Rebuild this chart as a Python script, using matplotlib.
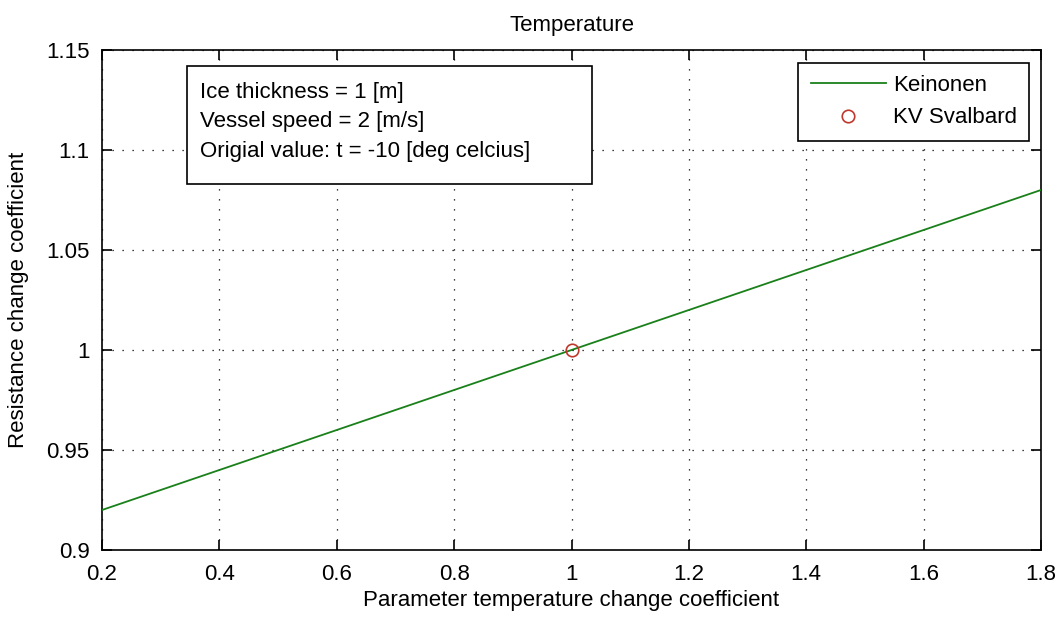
import matplotlib.pyplot as plt
from matplotlib.patches import Rectangle

plt.rcParams['font.family'] = ['Liberation Sans', 'DejaVu Sans']

# Keinonen resistance vs. temperature coefficient
coef = [0.2, 0.4, 0.6, 0.8, 1.0, 1.2, 1.4, 1.6, 1.8]
resistance = [0.92, 0.94, 0.96, 0.98, 1.00, 1.02, 1.04, 1.06, 1.08]

# reference vessel point
svalbard_x = [1.0]
svalbard_y = [1.0]

xticks = [0.2, 0.4, 0.6, 0.8, 1, 1.2, 1.4, 1.6, 1.8]
yticks = [0.9, 0.95, 1, 1.05, 1.1, 1.15]

info_lines = ['Ice thickness = 1 [m]',
              'Vessel speed = 2 [m/s]',
              'Origial value: t = -10 [deg celcius]']

W, H = 1061, 617
fig = plt.figure(figsize=(W / 100, H / 100), dpi=100)
ax = fig.add_axes([102 / W, 1 - 550 / H, (1041 - 102) / W, 500 / H])

ax.plot(coef, resistance, color=(0.1, 0.5, 0.1), lw=1.3, label='Keinonen', zorder=3)
ax.plot(svalbard_x, svalbard_y, 'o', mfc='none', mec=(0.75, 0.22, 0.18),
        ms=9, mew=1.2, label='KV Svalbard', zorder=4)

ax.set_xlim(0.2, 1.8)
ax.set_ylim(0.9, 1.15)
ax.set_xticks(xticks)
ax.set_yticks(yticks)
ax.set_xticklabels(['%g' % t for t in xticks])
ax.set_yticklabels(['%g' % t for t in yticks])
ax.tick_params(direction='in', length=7, width=1.2, top=True, right=True,
               labelsize=16, pad=9, colors='black')
ax.tick_params(axis='x', pad=10)
for sp in ax.spines.values():
    sp.set_linewidth(1.2)
ax.grid(True, color='black', lw=0.9, linestyle=(0, (1, 7)))

ax.set_title('Temperature', fontsize=16, pad=14)
ax.set_xlabel('Parameter temperature change coefficient', fontsize=16, labelpad=4)
ax.set_ylabel('Resistance change coefficient', fontsize=16, labelpad=12)

leg = ax.legend(loc='upper right', bbox_to_anchor=(1029 / W, 1 - 63 / H),
                bbox_transform=fig.transFigure, fontsize=16, frameon=True,
                fancybox=False, edgecolor='black', framealpha=1,
                handlelength=3.4, handletextpad=0.3, labelspacing=0.5,
                borderpad=0.55, borderaxespad=0)
leg.get_frame().set_linewidth(1.2)

# annotation box with run settings
box = Rectangle((187 / W, 1 - 184 / H), (592 - 187) / W, (184 - 66) / H,
                transform=fig.transFigure, facecolor='white', edgecolor='black',
                lw=1.2, zorder=5)
fig.patches.append(box)
for i, line in enumerate(info_lines):
    fig.text(200 / W, 1 - (98 + 29.5 * i) / H, line, fontsize=16,
             va='baseline', ha='left', zorder=6)

fig.savefig('out.png', dpi=100)
